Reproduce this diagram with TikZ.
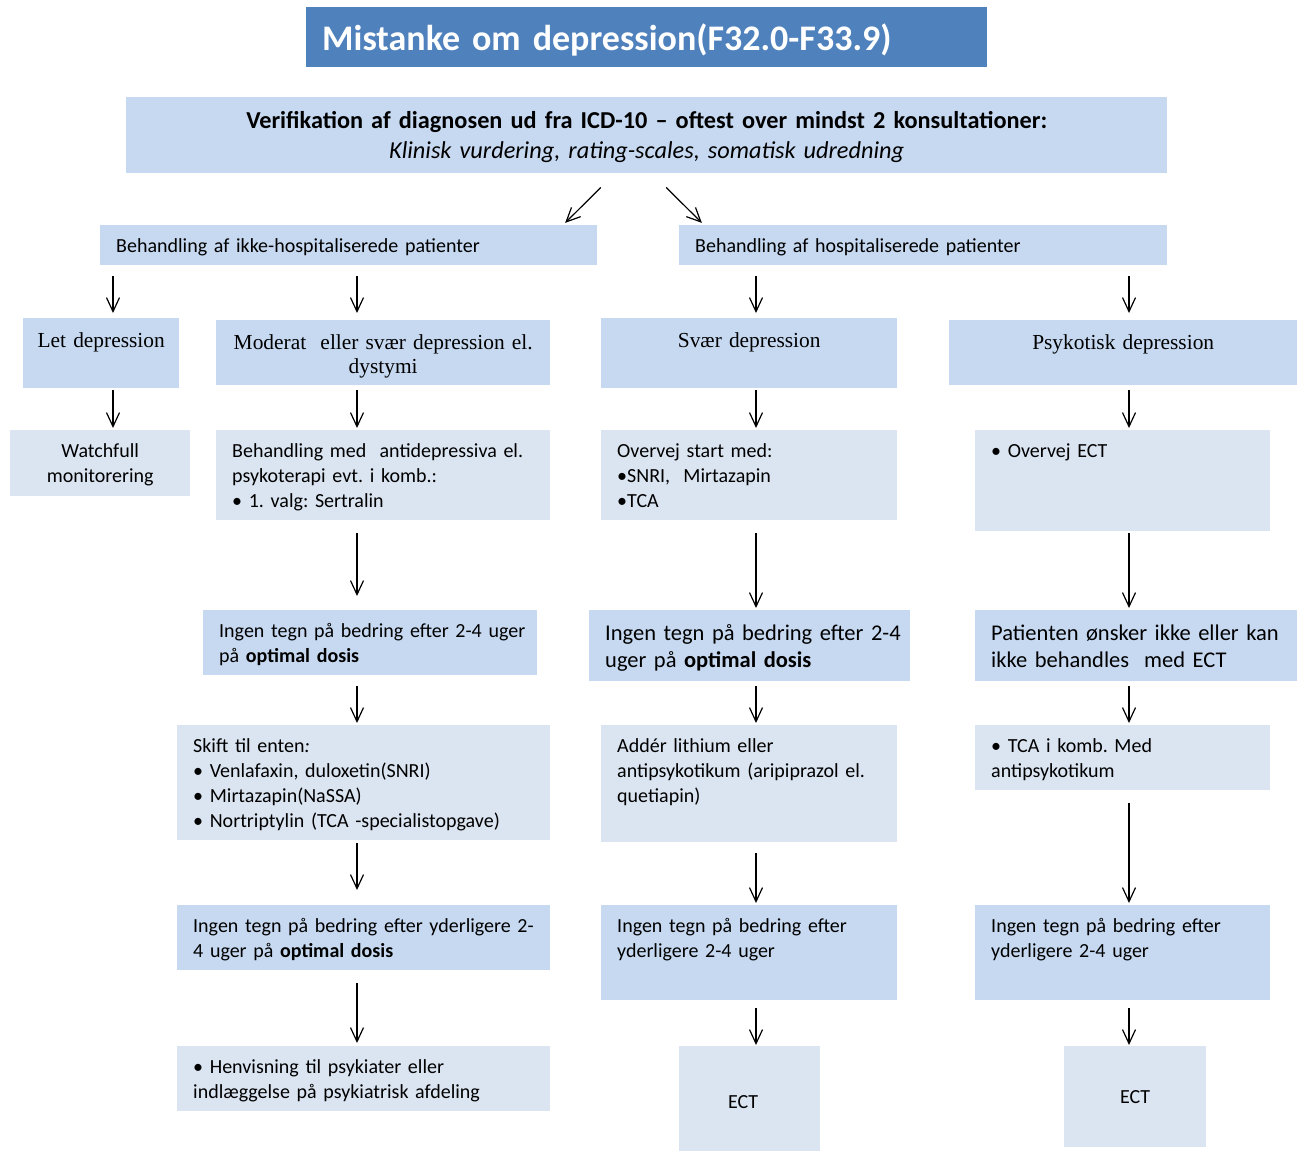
\documentclass[tikz,border=0pt]{standalone}
\usepackage{fontspec}
\setmainfont{Carlito}
\newfontfamily\camb{Liberation Serif}
\usetikzlibrary{arrows.meta,positioning}
\definecolor{titleblue}{HTML}{4F81BD}
\definecolor{boxdark}{HTML}{C6D9F1}
\definecolor{boxlight}{HTML}{DBE5F1}
\frenchspacing
\tikzset{
    bx/.code n args={3}{%
        \pgfmathsetmacro\bxd{#2-#3}%
        \edef\bxset{\noexpand\tikzset{text width=#1pt, text height=#3pt, text depth=\bxd pt}}\bxset},
    blk/.style={anchor=north west, inner sep=0pt, font=\fontsize{20}{25}\selectfont},
    lt/.style={align=left, execute at begin node={\leftskip=16pt\rightskip=0pt plus 1fil\parfillskip=0pt plus 1fil\relax}},
    mid/.style={align=center, execute at begin node={\leftskip=0pt plus 1fil\rightskip=#1 plus 1fil\parfillskip=0pt\relax}},
    mid/.default=0pt,
    dark/.style={blk, fill=boxdark},
    light/.style={blk, fill=boxlight},
    big/.style={font=\fontsize{22.5}{27}\selectfont},
    cam/.style={mid, font=\camb\fontsize{21.4}{24}\selectfont}
}

\begin{document}
\begin{tikzpicture}[x=1pt, y=-1pt, >={Straight Barb[length=14pt,width=13pt]}]
                        \useasboundingbox (0,0) rectangle (1297,1151);

                        \node[blk, lt, fill=titleblue, text=white, bx={681}{60}{43}, font=\bfseries\fontsize{36}{40}\selectfont] (title) at (306,7) {Mistanke om depression(F32.0-F33.9)};
                        \node[dark, mid, bx={1041}{76}{31}, font=\fontsize{24.3}{30}\selectfont] (verif) at (126,97) {\textbf{Verifikation af diagnosen ud fra ICD-10 – oftest over mindst 2 konsultationer:}\\\textit{Klinisk vurdering, rating-scales, somatisk udredning}};

                        \node[dark, lt, bx={497}{40}{27}] (grpL) at (100,225) {Behandling af ikke-hospitaliserede patienter};
                        \node[dark, lt, bx={488}{40}{27}] (grpR) at (679,225) {Behandling af hospitaliserede patienter};

                        \node[dark, cam, bx={156}{70}{29}] (letdep) at (23,318) {Let depression};
                        \node[dark, cam, bx={334}{65}{29}] (moderat) at (216,320) {Moderat~ eller svær depression el.\\dystymi};
                        \node[dark, cam, bx={296}{70}{29}] (svaer) at (601,318) {Svær depression};
                        \node[dark, cam, bx={348}{65}{29}] (psyk) at (949,320) {Psykotisk depression};

                        \node[light, mid, bx={180}{66}{27}] (watch) at (10,430) {Watchfull\\monitorering};
                        \node[light, lt, bx={334}{90}{27}] (behmed) at (216,430) {Behandling med~ antidepressiva el.\\psykoterapi evt. i komb.:\\• 1. valg: Sertralin};
                        \node[light, lt, bx={296}{90}{27}] (overvej) at (601,430) {Overvej start med:\\•SNRI,~ Mirtazapin\\•TCA};
                        \node[light, lt, bx={295}{101}{27}] (ovect) at (975,430) {• Overvej ECT};

                        \node[dark, lt, bx={334}{65}{27}] (ingenL) at (203,610) {Ingen tegn på bedring efter 2-4 uger\\på \textbf{optimal dosis}};
                        \node[dark, lt, big, bx={321}{71}{30}] (ingenM) at (589,610) {Ingen tegn på bedring efter 2-4\\uger på \textbf{optimal dosis}};
                        \node[dark, lt, big, bx={322}{71}{30}] (patient) at (975,610) {Patienten ønsker ikke eller kan\\ikke behandles~ med ECT};

                        \node[light, lt, bx={373}{115}{27}] (skift) at (177,725) {Skift til enten\textit{:}\\• Venlafaxin, duloxetin(SNRI)\\• Mirtazapin(NaSSA)\\• Nortriptylin (TCA -specialistopgave)};
                        \node[light, lt, bx={296}{117}{27}] (adder) at (601,725) {Addér lithium eller\\antipsykotikum (aripiprazol el.\\quetiapin)};
                        \node[light, lt, bx={295}{65}{27}] (tca) at (975,725) {• TCA i komb. Med\\antipsykotikum};

                        \node[dark, lt, bx={373}{65}{27}] (yderL) at (177,905) {Ingen tegn på bedring efter yderligere 2-\\4 uger på \textbf{optimal dosis}};
                        \node[dark, lt, bx={296}{95}{27}] (yderM) at (601,905) {Ingen tegn på bedring efter\\yderligere 2-4 uger};
                        \node[dark, lt, bx={295}{95}{27}] (yderR) at (975,905) {Ingen tegn på bedring efter\\yderligere 2-4 uger};

                        \node[light, lt, bx={373}{65}{27}] (henv) at (177,1046) {• Henvisning til psykiater eller\\indlæggelse på psykiatrisk afdeling};
                        \node[light, mid=13pt, bx={141}{105}{62}] (ectM) at (679,1046) {ECT};
                        \node[light, mid, bx={142}{101}{57}] (ectR) at (1064,1046) {ECT};

                        \coordinate (colA) at (113,0);
                        \coordinate (colB) at (357,0);
                        \coordinate (colC) at (756,0);
                        \coordinate (colD) at (1129,0);
                        \coordinate (dl1) at (615,0);
                        \coordinate (dl2) at (563,0);
                        \coordinate (dr1) at (652,0);
                        \coordinate (dr2) at (704,0);

                        \draw[line width=1.2pt]
                        (verif.south -| dl1) edge[->, shorten <=20pt, shorten >=3pt] (grpL.north -| dl2)
                        (verif.south -| dr1) edge[->, shorten <=20pt, shorten >=3pt] (grpR.north -| dr2)
                        (grpL.south -| colA) edge[->, shorten <=11pt, shorten >=5pt] (letdep.north -| colA)
                        (letdep.south -| colA) edge[->, shorten <=2pt, shorten >=2pt] (watch.north -| colA)
                        (grpL.south -| colB) edge[->, shorten <=11pt, shorten >=7pt] (moderat.north -| colB)
                        (moderat.south -| colB) edge[->, shorten <=5pt, shorten >=2pt] (behmed.north -| colB)
                        (behmed.south -| colB) edge[->, shorten <=13pt, shorten >=14pt] (ingenL.north -| colB)
                        (ingenL.south -| colB) edge[->, shorten <=11pt, shorten >=2pt] (skift.north -| colB)
                        (skift.south -| colB) edge[->, shorten <=3pt, shorten >=15pt] (yderL.north -| colB)
                        (yderL.south -| colB) edge[->, shorten <=13pt, shorten >=3pt] (henv.north -| colB)
                        (grpR.south -| colC) edge[->, shorten <=11pt, shorten >=5pt] (svaer.north -| colC)
                        (svaer.south -| colC) edge[->, shorten <=2pt, shorten >=2pt] (overvej.north -| colC)
                        (overvej.south -| colC) edge[->, shorten <=13pt, shorten >=2pt] (ingenM.north -| colC)
                        (ingenM.south -| colC) edge[->, shorten <=5pt, shorten >=2pt] (adder.north -| colC)
                        (adder.south -| colC) edge[->, shorten <=11pt, shorten >=2pt] (yderM.north -| colC)
                        (yderM.south -| colC) edge[->, shorten <=8pt, shorten >=1pt] (ectM.north -| colC)
                        (grpR.south -| colD) edge[->, shorten <=11pt, shorten >=7pt] (psyk.north -| colD)
                        (psyk.south -| colD) edge[->, shorten <=5pt, shorten >=2pt] (ovect.north -| colD)
                        (ovect.south -| colD) edge[->, shorten <=2pt, shorten >=2pt] (patient.north -| colD)
                        (patient.south -| colD) edge[->, shorten <=5pt, shorten >=2pt] (tca.north -| colD)
                        (tca.south -| colD) edge[->, shorten <=13pt, shorten >=2pt] (yderR.north -| colD)
                        (yderR.south -| colD) edge[->, shorten <=8pt, shorten >=1pt] (ectR.north -| colD);
                    \end{tikzpicture}
\end{document}
